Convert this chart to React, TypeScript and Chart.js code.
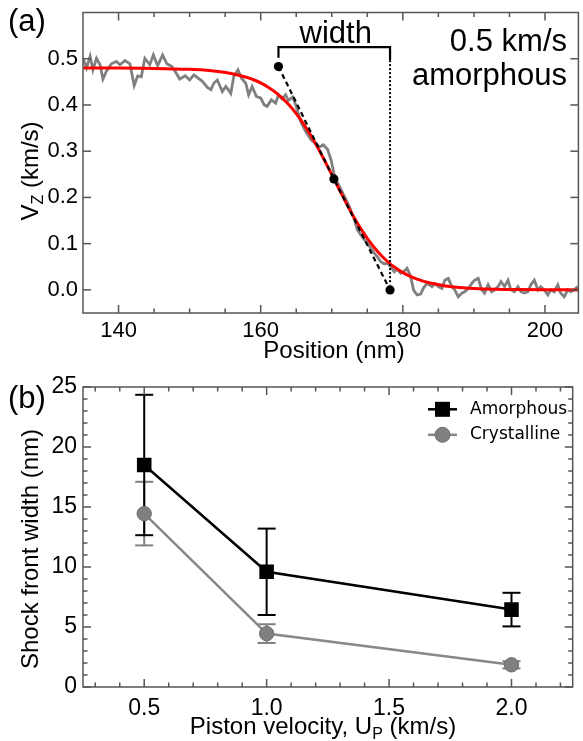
import React, { useEffect, useRef } from "react";
import { Chart, registerables } from "chart.js";

Chart.register(...registerables);

const SANS = '"Liberation Sans", Arial, Helvetica, sans-serif';
const DEJAVU = '"DejaVu Sans", Verdana, sans-serif';

// ---------------- Panel (a): velocity profile ----------------
// measured (noisy) trace: [position nm, Vz km/s]
const measuredTrace: [number, number][] = [
  [135.0, 0.501], [135.5, 0.48], [136.0, 0.505], [136.4, 0.476], [136.9, 0.501], [137.4, 0.487],
  [137.8, 0.456], [138.3, 0.473], [139.0, 0.489], [139.7, 0.494], [140.2, 0.487], [140.9, 0.496],
  [141.6, 0.489], [142.2, 0.442], [142.7, 0.463], [143.2, 0.461], [143.7, 0.501], [144.4, 0.487],
  [144.9, 0.508], [145.5, 0.485], [146.2, 0.508], [146.8, 0.489], [147.5, 0.483], [148.1, 0.469],
  [148.6, 0.456], [149.4, 0.463], [150.0, 0.454], [150.6, 0.465], [151.2, 0.458], [151.8, 0.451],
  [152.5, 0.438], [153.0, 0.433], [153.4, 0.447], [153.9, 0.454], [154.6, 0.429], [155.1, 0.44],
  [155.8, 0.425], [156.2, 0.461], [156.8, 0.476], [157.3, 0.458], [157.9, 0.447], [158.3, 0.422],
  [158.8, 0.44], [159.4, 0.418], [160.0, 0.415], [160.5, 0.4], [160.9, 0.397], [161.5, 0.411],
  [162.1, 0.404], [162.5, 0.422], [163.0, 0.413], [163.5, 0.422], [163.9, 0.41], [164.5, 0.417],
  [165.0, 0.397], [165.6, 0.365], [166.2, 0.346], [167.1, 0.324], [167.8, 0.316], [168.3, 0.309],
  [168.8, 0.314], [169.4, 0.304], [169.9, 0.281], [170.4, 0.245], [171.1, 0.223], [171.8, 0.202],
  [172.5, 0.179], [173.2, 0.151], [173.6, 0.13], [174.1, 0.119], [174.6, 0.108], [175.0, 0.101],
  [175.5, 0.09], [176.0, 0.079], [176.4, 0.072], [176.9, 0.061], [177.4, 0.056], [177.8, 0.058],
  [178.3, 0.05], [178.8, 0.039], [179.2, 0.045], [179.7, 0.036], [180.1, 0.039], [180.6, 0.047],
  [181.1, 0.029], [181.5, 0.0], [182.0, -0.011], [182.5, -0.009], [182.9, 0.004], [183.4, 0.014],
  [184.1, 0.007], [184.5, 0.014], [185.0, 0.007], [185.5, 0.003], [185.9, 0.021], [186.4, 0.025],
  [186.9, 0.007], [187.3, 0.0], [187.8, -0.015], [188.3, -0.007], [188.7, -0.004], [189.2, 0.003],
  [189.7, 0.014], [190.1, 0.021], [190.6, 0.025], [191.1, 0.0], [191.5, -0.007], [192.0, 0.011],
  [192.5, -0.004], [192.9, 0.0], [193.4, 0.007], [193.8, 0.018], [194.3, 0.007], [194.8, 0.021],
  [195.2, 0.0], [195.7, -0.004], [196.2, 0.007], [196.6, -0.004], [197.1, -0.007], [197.6, -0.004],
  [198.0, 0.011], [198.5, 0.021], [199.0, 0.0], [199.4, 0.007], [199.9, 0.0], [200.4, -0.011],
  [200.8, 0.0], [201.3, -0.004], [201.8, 0.011], [202.2, -0.007], [202.7, -0.015], [203.2, 0.0],
  [203.6, -0.004], [204.1, 0.0], [204.6, 0.007],
];

// fitted profile (red): [position nm, Vz km/s]
const fittedProfile: [number, number][] = [
  [135, 0.48], [140, 0.48], [145, 0.479], [150, 0.477], [152, 0.4755], [154, 0.4726],
  [156, 0.4677], [158, 0.46], [159, 0.4545], [160, 0.4476], [161, 0.439], [162, 0.4283],
  [163, 0.4153], [164, 0.3997], [165, 0.3812], [166, 0.3598], [167, 0.3354], [168, 0.3084],
  [169, 0.2794], [170, 0.2492], [171, 0.2187], [172, 0.1888], [173, 0.1605], [174, 0.1346],
  [175, 0.1113], [176, 0.091], [177, 0.0737], [178, 0.0592], [179, 0.0472], [180, 0.0374],
  [182, 0.0232], [184, 0.0142], [186, 0.0086], [188, 0.0052], [190, 0.0032], [193, 0.0015],
  [196, 0.0007], [200, 0.0002], [205, 0.0],
];

const tangentPosition = [162.5, 170.3, 178.2];
const tangentVelocity = [0.483, 0.24, 0.0];
const bracketPosition = [162.5, 162.5, 178.2, 178.2];
const bracketVelocity = [0.502, 0.525, 0.525, 0.497];
const dropPosition = [178.2, 178.2];
const dropVelocity = [0.497, 0.012];

const aXMajor = [140, 160, 180, 200];
const aXMinor = [145, 150, 155, 165, 170, 175, 185, 190, 195];
const aYMajor = [0, 0.1, 0.2, 0.3, 0.4, 0.5];

// ---------------- Panel (b): shock front width ----------------
const pistonVelocity = [0.5, 1.0, 2.0];
const amorphousWidth = [18.5, 9.6, 6.45];
const amorphousErr = [5.85, 3.6, 1.4];
const crystallineWidth = [14.45, 4.45, 1.85];
const crystallineErr = [2.65, 0.78, 0.3];

const bXMajor = [0.5, 1.0, 1.5, 2.0];
const bXMinor = [0.3, 0.4, 0.6, 0.7, 0.8, 0.9, 1.1, 1.2, 1.3, 1.4, 1.6, 1.7, 1.8, 1.9, 2.1, 2.2];
const bYMajor = [0, 5, 10, 15, 20, 25];
const bYMinor = [1, 2, 3, 4, 6, 7, 8, 9, 11, 12, 13, 14, 16, 17, 18, 19, 21, 22, 23, 24];

const B_TOP = 372; // page y of the second canvas

const pairs = (xs: number[], ys: number[]) => xs.map((x, i) => ({ x, y: ys[i] }));
const tuples = (t: [number, number][]) => t.map(([x, y]) => ({ x, y }));

function seg(ctx: CanvasRenderingContext2D, x1: number, y1: number, x2: number, y2: number) {
  ctx.beginPath();
  ctx.moveTo(x1, y1);
  ctx.lineTo(x2, y2);
  ctx.stroke();
}

function axesDeco(opt: { xMajor: number[]; xMinor: number[]; yMajor: number[]; yMinor: number[] }) {
  return {
    id: "axesDeco",
    afterDraw(chart: any) {
      const { ctx, chartArea: a } = chart;
      const xs = chart.scales.x;
      const ys = chart.scales.y;
      ctx.save();
      ctx.strokeStyle = "#555";
      ctx.lineWidth = 1.5;
      ctx.strokeRect(a.left, a.top, a.right - a.left, a.bottom - a.top);
      const MJ = 8, MN = 4.5;
      for (const v of opt.xMajor) {
        const p = xs.getPixelForValue(v);
        seg(ctx, p, a.bottom, p, a.bottom - MJ);
        seg(ctx, p, a.top, p, a.top + MJ);
      }
      for (const v of opt.xMinor) {
        const p = xs.getPixelForValue(v);
        seg(ctx, p, a.bottom, p, a.bottom - MN);
        seg(ctx, p, a.top, p, a.top + MN);
      }
      for (const v of opt.yMajor) {
        const p = ys.getPixelForValue(v);
        seg(ctx, a.left, p, a.left + MJ, p);
        seg(ctx, a.right, p, a.right - MJ, p);
      }
      for (const v of opt.yMinor) {
        const p = ys.getPixelForValue(v);
        seg(ctx, a.left, p, a.left + MN, p);
        seg(ctx, a.right, p, a.right - MN, p);
      }
      ctx.restore();
    },
  };
}

function drawSubText(
  ctx: CanvasRenderingContext2D,
  main: string,
  sub: string,
  rest: string,
  cx: number,
  baseline: number,
  size: number
) {
  const subSize = Math.round(size * 0.68);
  ctx.font = `${size}px ${SANS}`;
  const w1 = ctx.measureText(main).width;
  const w3 = ctx.measureText(rest).width;
  ctx.font = `${subSize}px ${SANS}`;
  const w2 = ctx.measureText(sub).width;
  const start = cx - (w1 + w2 + w3) / 2;
  ctx.textAlign = "left";
  ctx.textBaseline = "alphabetic";
  ctx.font = `${size}px ${SANS}`;
  ctx.fillText(main, start, baseline);
  ctx.font = `${subSize}px ${SANS}`;
  ctx.fillText(sub, start + w1, baseline + size * 0.2);
  ctx.font = `${size}px ${SANS}`;
  ctx.fillText(rest, start + w1 + w2, baseline);
}

function rotatedSubTitle(
  ctx: CanvasRenderingContext2D,
  main: string,
  sub: string,
  rest: string,
  x: number,
  yc: number,
  size: number
) {
  ctx.save();
  ctx.translate(x, yc);
  ctx.rotate(-Math.PI / 2);
  drawSubText(ctx, main, sub, rest, 0, 0, size);
  ctx.restore();
}

const panelAText = {
  id: "panelAText",
  afterDraw(chart: any) {
    const { ctx } = chart;
    const xs = chart.scales.x;
    ctx.save();
    ctx.fillStyle = "#000";
    ctx.textBaseline = "alphabetic";
    ctx.font = `31px ${SANS}`;
    ctx.textAlign = "left";
    ctx.fillText("(a)", 8, 31);
    ctx.textAlign = "center";
    const mid = xs.getPixelForValue((bracketPosition[0] + bracketPosition[3]) / 2);
    ctx.fillText("width", mid + 1.5, 43);
    ctx.textAlign = "right";
    ctx.fillText("0.5 km/s", 567, 50.5);
    ctx.fillText("amorphous", 567, 85);
    ctx.font = `24px ${SANS}`;
    ctx.textAlign = "center";
    ctx.fillText("Position (nm)", 334, 358);
    rotatedSubTitle(ctx, "V", "Z", " (km/s)", 38, 171, 24);
    ctx.restore();
  },
};

const panelBDeco = {
  id: "panelBDeco",
  beforeDatasetsDraw(chart: any) {
    const { ctx } = chart;
    const xs = chart.scales.x;
    const ys = chart.scales.y;
    const bars = (vals: number[], errs: number[], color: string) => {
      ctx.strokeStyle = color;
      ctx.lineWidth = 2;
      pistonVelocity.forEach((v, i) => {
        const px = xs.getPixelForValue(v);
        const top = ys.getPixelForValue(vals[i] + errs[i]);
        const bot = ys.getPixelForValue(vals[i] - errs[i]);
        seg(ctx, px, top, px, bot);
        seg(ctx, px - 9, top, px + 9, top);
        seg(ctx, px - 9, bot, px + 9, bot);
      });
    };
    ctx.save();
    bars(crystallineWidth, crystallineErr, "#808080");
    bars(amorphousWidth, amorphousErr, "#000");
    ctx.restore();
  },
  afterDraw(chart: any) {
    const { ctx } = chart;
    ctx.save();
    ctx.fillStyle = "#000";
    ctx.textBaseline = "alphabetic";
    ctx.textAlign = "left";
    ctx.font = `31px ${SANS}`;
    ctx.fillText("(b)", 8, 408 - B_TOP);

    // legend
    const lx1 = 428, lx2 = 457, mx = 442.5;
    const y1 = 409.3 - B_TOP, y2 = 434.8 - B_TOP;
    ctx.lineWidth = 2.5;
    ctx.strokeStyle = "#000";
    seg(ctx, lx1, y1, lx2, y1);
    ctx.fillStyle = "#000";
    ctx.fillRect(mx - 7.5, y1 - 7.5, 15, 15);
    ctx.strokeStyle = "#888";
    seg(ctx, lx1, y2, lx2, y2);
    ctx.fillStyle = "#808080";
    ctx.beginPath();
    ctx.arc(mx, y2, 7.5, 0, Math.PI * 2);
    ctx.fill();
    ctx.strokeStyle = "#6e6e6e";
    ctx.lineWidth = 1;
    ctx.stroke();
    ctx.fillStyle = "#000";
    ctx.font = `17px ${DEJAVU}`;
    ctx.textBaseline = "middle";
    ctx.fillText("Amorphous", 470, y1);
    ctx.fillText("Crystalline", 470, y2);

    // axis titles
    ctx.textBaseline = "alphabetic";
    ctx.font = `24px ${SANS}`;
    ctx.save();
    ctx.translate(38, 549 - B_TOP);
    ctx.rotate(-Math.PI / 2);
    ctx.textAlign = "center";
    ctx.fillText("Shock front width (nm)", 0, 0);
    ctx.restore();
    drawSubText(ctx, "Piston velocity, U", "P", " (km/s)", 323, 734 - B_TOP, 24);
    ctx.restore();
  },
};

function fixedAxis(
  size: number,
  isX: boolean,
  min: number,
  max: number,
  ticks: number[],
  fmt: (v: number) => string,
  fontSize: number,
  pad: number
) {
  return {
    type: "linear" as const,
    min,
    max,
    grid: { display: false, drawTicks: false },
    border: { display: false },
    ticks: {
      font: { family: SANS, size: fontSize },
      color: "#000",
      padding: pad,
      maxRotation: 0,
      autoSkip: false,
      callback: (v: any) => fmt(Number(v)),
    },
    afterBuildTicks: (s: any) => {
      s.ticks = ticks.map((v) => ({ value: v }));
    },
    afterFit: (s: any) => {
      if (isX) s.height = size;
      else s.width = size;
      s.paddingTop = 0;
      s.paddingBottom = 0;
      s.paddingLeft = 0;
      s.paddingRight = 0;
    },
  };
}

export default function App() {
  const refA = useRef<HTMLCanvasElement>(null);
  const refB = useRef<HTMLCanvasElement>(null);

  useEffect(() => {
    const chartA = new Chart(refA.current as HTMLCanvasElement, {
      type: "line",
      data: {
        datasets: [
          {
            data: pairs(tangentPosition, tangentVelocity),
            borderColor: "#000",
            borderWidth: 2.2,
            borderDash: [5, 3.5],
            pointRadius: 4.6,
            pointBackgroundColor: "#000",
            pointBorderColor: "#000",
            pointBorderWidth: 0,
          },
          {
            data: pairs(bracketPosition, bracketVelocity),
            borderColor: "#000",
            borderWidth: 2.2,
            pointRadius: 0,
          },
          {
            data: pairs(dropPosition, dropVelocity),
            borderColor: "#000",
            borderWidth: 2,
            borderDash: [2, 2],
            pointRadius: 0,
          },
          {
            data: tuples(fittedProfile),
            borderColor: "#ff0000",
            borderWidth: 3,
            pointRadius: 0,
            cubicInterpolationMode: "monotone",
          },
          {
            data: tuples(measuredTrace),
            borderColor: "#808080",
            borderWidth: 2.8,
            pointRadius: 0,
            tension: 0,
          },
        ],
      },
      options: {
        responsive: false,
        animation: false,
        devicePixelRatio: 1,
        events: [],
        layout: { padding: { top: 12.5, left: 0, right: 0, bottom: 0 } },
        plugins: { legend: { display: false }, tooltip: { enabled: false } },
        scales: {
          x: fixedAxis(59, true, 135, 204.7, aXMajor, (v) => String(Math.round(v)), 22, 5),
          y: fixedAxis(83, false, -0.05, 0.6, aYMajor, (v) => v.toFixed(1), 22, 5),
        },
      },
      plugins: [
        axesDeco({ xMajor: aXMajor, xMinor: aXMinor, yMajor: aYMajor, yMinor: [] }),
        panelAText,
      ],
    } as any);

    const chartB = new Chart(refB.current as HTMLCanvasElement, {
      type: "line",
      data: {
        datasets: [
          {
            label: "Amorphous",
            data: pairs(pistonVelocity, amorphousWidth),
            borderColor: "#000",
            borderWidth: 2.5,
            pointStyle: "rect",
            pointRadius: 10.3,
            pointBackgroundColor: "#000",
            pointBorderColor: "#000",
            pointBorderWidth: 0,
          },
          {
            label: "Crystalline",
            data: pairs(pistonVelocity, crystallineWidth),
            borderColor: "#888",
            borderWidth: 2.5,
            pointStyle: "circle",
            pointRadius: 7.2,
            pointBackgroundColor: "#808080",
            pointBorderColor: "#6e6e6e",
            pointBorderWidth: 1,
          },
        ],
      },
      options: {
        responsive: false,
        animation: false,
        devicePixelRatio: 1,
        events: [],
        layout: { padding: { top: 15, left: 0, right: 0, bottom: 0 } },
        plugins: { legend: { display: false }, tooltip: { enabled: false } },
        scales: {
          x: fixedAxis(54, true, 0.25, 2.25, bXMajor, (v) => v.toFixed(1), 23, 8),
          y: fixedAxis(83, false, 0, 25, bYMajor, (v) => String(Math.round(v)), 23, 6),
        },
      },
      plugins: [
        axesDeco({ xMajor: bXMajor, xMinor: bXMinor, yMajor: bYMajor, yMinor: bYMinor }),
        panelBDeco,
      ],
    } as any);

    return () => {
      chartA.destroy();
      chartB.destroy();
    };
  }, []);

  return (
    <div style={{ position: "absolute", left: 0, top: 0, width: 583, height: 741, background: "#fff" }}>
      <canvas ref={refA} width={583} height={372} style={{ position: "absolute", left: 0, top: 0 }} />
      <canvas ref={refB} width={583} height={369} style={{ position: "absolute", left: 0, top: B_TOP }} />
    </div>
  );
}
